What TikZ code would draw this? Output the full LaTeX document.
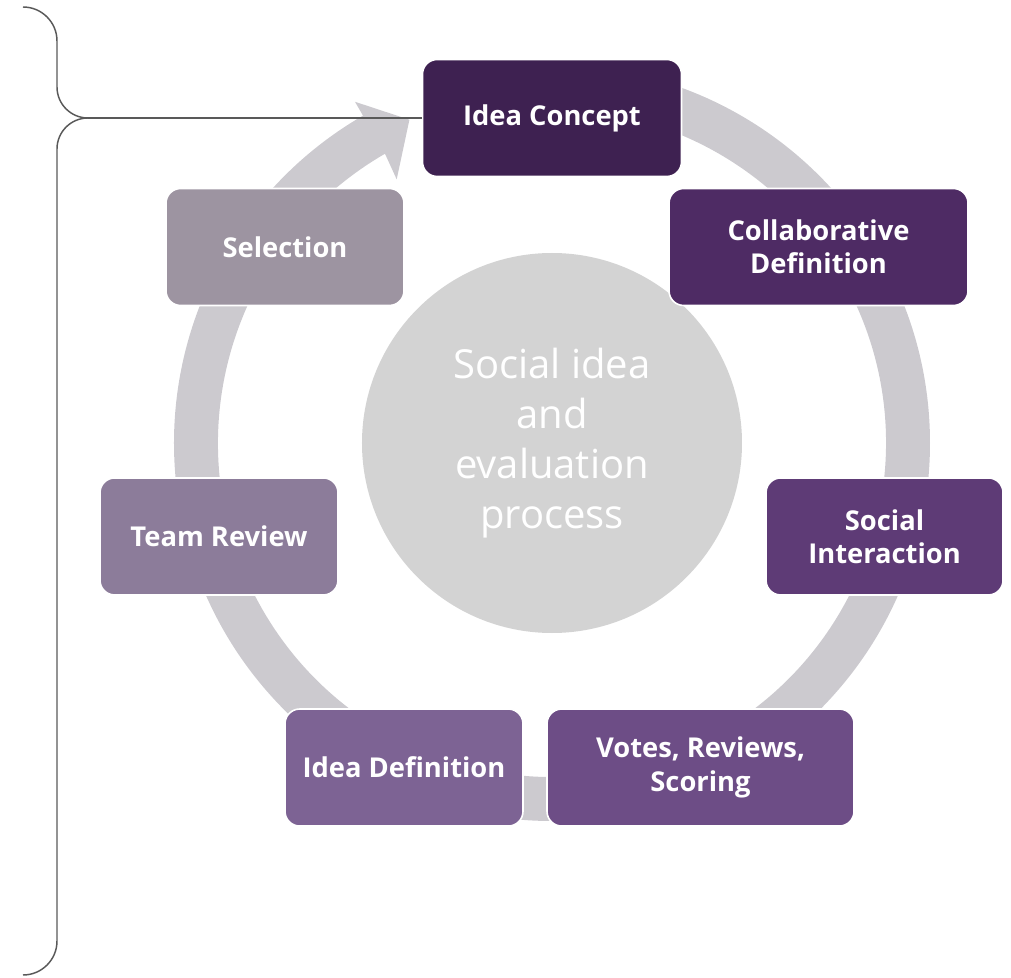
\documentclass[tikz,border=0pt]{standalone}
\usepackage{fontspec}
\setmainfont{Open Sans}
\usepackage{tikz}
\usetikzlibrary{positioning}

\definecolor{stage1}{HTML}{3E2151}
\definecolor{stage2}{HTML}{4E2B64}
\definecolor{stage3}{HTML}{5E3B76}
\definecolor{stage4}{HTML}{6D4D86}
\definecolor{stage5}{HTML}{7D6394}
\definecolor{stage6}{HTML}{8C7C9A}
\definecolor{stage7}{HTML}{9D94A1}
\definecolor{ringgray}{HTML}{CCCACF}
\definecolor{hubgray}{HTML}{D3D3D3}
\definecolor{bracegray}{HTML}{595959}

\begin{document}
\begin{tikzpicture}
%define
\tikzstyle{stage} = [rectangle, rounded corners=11pt, minimum width=178.5pt, minimum height=87.75pt, text centered, align=center, draw=white, line width=1.2pt, text=white, font=\fontsize{20.5}{25}\selectfont\bfseries]
\tikzstyle{hub} = [circle, minimum size=285pt, inner sep=0pt, fill=hubgray, text=white, align=center, font=\fontsize{30}{37.5}\selectfont]
\tikzstyle{brace} = [draw=bracegray, line width=1.1pt]

\useasboundingbox (-414pt,332.25pt) rectangle (344.25pt,-401.25pt);

%ring
\fill[ringgray] (90:283.5pt) arc[start angle=90, end angle=-240, radius=283.5pt]
  -- (120:295.5pt) -- (113.8:265pt) -- (120.5:229.5pt) -- (120:250.5pt)
  arc[start angle=-240, end angle=90, radius=250.5pt] -- cycle;

%center
\node[hub](center) at (0,0){Social idea\\and\\evaluation\\process};

%stages
\node[stage, fill=stage1, minimum width=194.25pt, xshift=0pt, yshift=243.75pt](concept) at (center){Idea Concept};
\node[stage, fill=stage2, minimum width=224.25pt, xshift=199.9pt, yshift=147pt](collab) at (center){Collaborative\\Definition};
\node[stage, fill=stage3, minimum width=177.75pt, xshift=249.4pt, yshift=-70.1pt](social) at (center){Social\\Interaction};
\node[stage, fill=stage4, minimum width=230.25pt, xshift=111.4pt, yshift=-243.4pt](votes) at (center){Votes, Reviews,\\Scoring};
\node[stage, fill=stage5, xshift=-111pt, yshift=-243.4pt](ideadef) at (center){Idea Definition};
\node[stage, fill=stage6, xshift=-249.75pt, yshift=-70.1pt](team) at (center){Team Review};
\node[stage, fill=stage7, xshift=-200.25pt, yshift=147pt](select) at (center){Selection};

%brace
\coordinate (tip) at (-348pt,243.75pt);
\draw[brace] (-396.75pt,327pt) arc[start angle=90, end angle=0, radius=25.5pt]
  -- (-371.25pt,267pt) arc[start angle=180, end angle=270, radius=23.25pt];
\draw[brace] (tip) arc[start angle=90, end angle=180, radius=23.25pt]
  -- (-371.25pt,-373.5pt) arc[start angle=0, end angle=-90, radius=25.5pt];
\draw[brace] (tip) -- (concept.west);

\end{tikzpicture}
\end{document}
